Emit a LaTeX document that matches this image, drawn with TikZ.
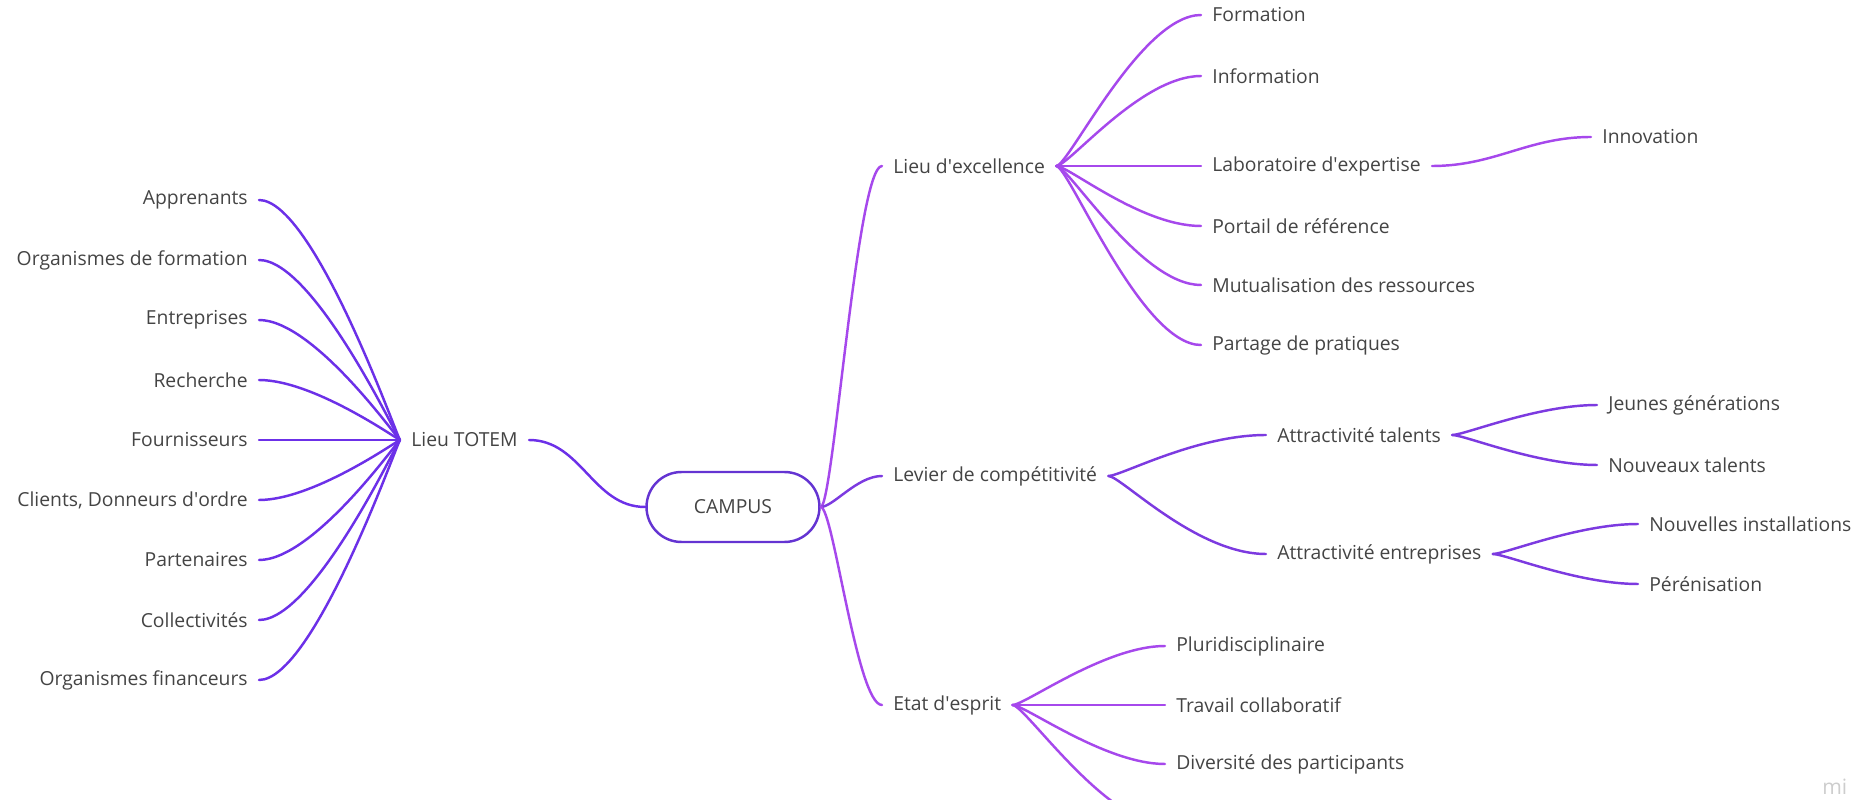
\documentclass[tikz,border=0pt]{standalone}
\usepackage{fontspec}
\setmainfont{Open Sans}
\definecolor{inkgray}{RGB}{68,68,68}
\definecolor{totemc}{RGB}{108,48,232}
\definecolor{campusc}{RGB}{100,52,210}
\definecolor{levierc}{RGB}{124,58,224}
\definecolor{excelc}{RGB}{166,72,236}
\definecolor{wmgray}{RGB}{205,205,205}
\newcommand{\ap}{\textquotesingle}

\begin{document}
\begin{tikzpicture}[x=0.02cm, y=-0.02cm,
    leaf/.style={text=inkgray, font=\fontsize{11}{13}\selectfont, inner xsep=0.22cm, inner ysep=1pt},
    campus/.style={draw=campusc, line width=1.4pt, rounded corners=0.7cm, minimum width=3.46cm,
        minimum height=1.4cm, text=inkgray, font=\fontsize{11}{13}\selectfont},
    link/.style={line width=1.4pt, line cap=round},
    rbranch/.style={to path={.. controls ([xshift=0.25cm]\tikztostart) and ([xshift=-#1]\tikztotarget) .. (\tikztotarget)}},
    rbranch/.default=1.2cm,
    lbranch/.style={to path={.. controls ([xshift=-1pt]\tikztostart) and ([xshift=#1]\tikztotarget) .. (\tikztotarget)}},
    lbranch/.default=1.1cm]

    \useasboundingbox (0,0) rectangle (1864,800);
    \clip (0,0) rectangle (1864,800);

    % who meets at the totem
    \node[leaf, anchor=east] (appr) at (259,200) {Apprenants};
    \node[leaf, anchor=east] (orgf) at (259,260) {Organismes de formation};
    \node[leaf, anchor=east] (entr) at (259,320) {Entreprises};
    \node[leaf, anchor=east] (rech) at (259,380) {Recherche};
    \node[leaf, anchor=east] (four) at (259,440) {Fournisseurs};
    \node[leaf, anchor=east] (clie) at (259,500) {Clients, Donneurs d\ap ordre};
    \node[leaf, anchor=east] (part) at (259,560) {Partenaires};
    \node[leaf, anchor=east] (coll) at (259,620) {Collectivités};
    \node[leaf, anchor=east] (ofin) at (259,680) {Organismes financeurs};

    \node[leaf, anchor=west] (totem) at (400,440) {Lieu TOTEM};
    \node[campus] (campus) at (733,507) {CAMPUS};

    % main branches
    \node[leaf, anchor=west] (excel) at (882,166) {Lieu d\ap excellence};
    \node[leaf, anchor=west] (levier) at (882,476) {Levier de compétitivité};
    \node[leaf, anchor=west] (etat) at (882,705) {Etat d\ap esprit};

    \node[leaf, anchor=west] (form) at (1201,15) {Formation};
    \node[leaf, anchor=west] (info) at (1201,76) {Information};
    \node[leaf, anchor=west] (labo) at (1201,166) {Laboratoire d\ap expertise};
    \node[leaf, anchor=west] (port) at (1201,226) {Portail de référence};
    \node[leaf, anchor=west] (mutu) at (1201,285) {Mutualisation des ressources};
    \node[leaf, anchor=west] (prat) at (1201,345) {Partage de pratiques};
    \node[leaf, anchor=west] (innov) at (1591,137) {Innovation};

    \node[leaf, anchor=west] (atal) at (1266,435) {Attractivité talents};
    \node[leaf, anchor=west] (aent) at (1266,554) {Attractivité entreprises};
    \node[leaf, anchor=west] (jeun) at (1597,405) {Jeunes générations};
    \node[leaf, anchor=west] (nouv) at (1597,465) {Nouveaux talents};
    \node[leaf, anchor=west] (inst) at (1638,524) {Nouvelles installations};
    \node[leaf, anchor=west] (pere) at (1638,584) {Pérénisation};

    \node[leaf, anchor=west] (plur) at (1165,646) {Pluridisciplinaire};
    \node[leaf, anchor=west] (trav) at (1165,705) {Travail collaboratif};
    \node[leaf, anchor=west] (dive) at (1165,764) {Diversité des participants};
    \coordinate (etat4) at (1165,824);

    \node[text=wmgray, font=\fontsize{12}{12}\selectfont, inner sep=0pt, anchor=base west] (wm) at (1822,794) {mi};

    % connectors
    \foreach \n in {appr,orgf,entr,rech,four,clie,part,coll,ofin}
        \draw[link, totemc] (totem.west) to[lbranch] (\n.east);
    \draw[link, totemc] (totem.east) to[out=0, in=180] (campus.west);

    \draw[link, excelc] (campus.east) to[rbranch=0.5cm] (excel.west);
    \draw[link, levierc] (campus.east) to[rbranch=0.5cm] (levier.west);
    \draw[link, excelc] (campus.east) to[rbranch=0.5cm] (etat.west);

    \foreach \n in {form,info,labo,port,mutu,prat}
        \draw[link, excelc] (excel.east) to[rbranch] (\n.west);
    \draw[link, excelc] (labo.east) to[out=0, in=180] (innov.west);

    \draw[link, levierc] (levier.east) to[rbranch=1.4cm] (atal.west);
    \draw[link, levierc] (levier.east) to[rbranch=1.4cm] (aent.west);
    \draw[link, levierc] (atal.east) to[rbranch] (jeun.west);
    \draw[link, levierc] (atal.east) to[rbranch] (nouv.west);
    \draw[link, levierc] (aent.east) to[rbranch] (inst.west);
    \draw[link, levierc] (aent.east) to[rbranch] (pere.west);

    \foreach \n in {plur,trav,dive}
        \draw[link, excelc] (etat.east) to[rbranch] (\n.west);
    \draw[link, excelc] (etat.east) to[rbranch] (etat4);

\end{tikzpicture}
\end{document}
